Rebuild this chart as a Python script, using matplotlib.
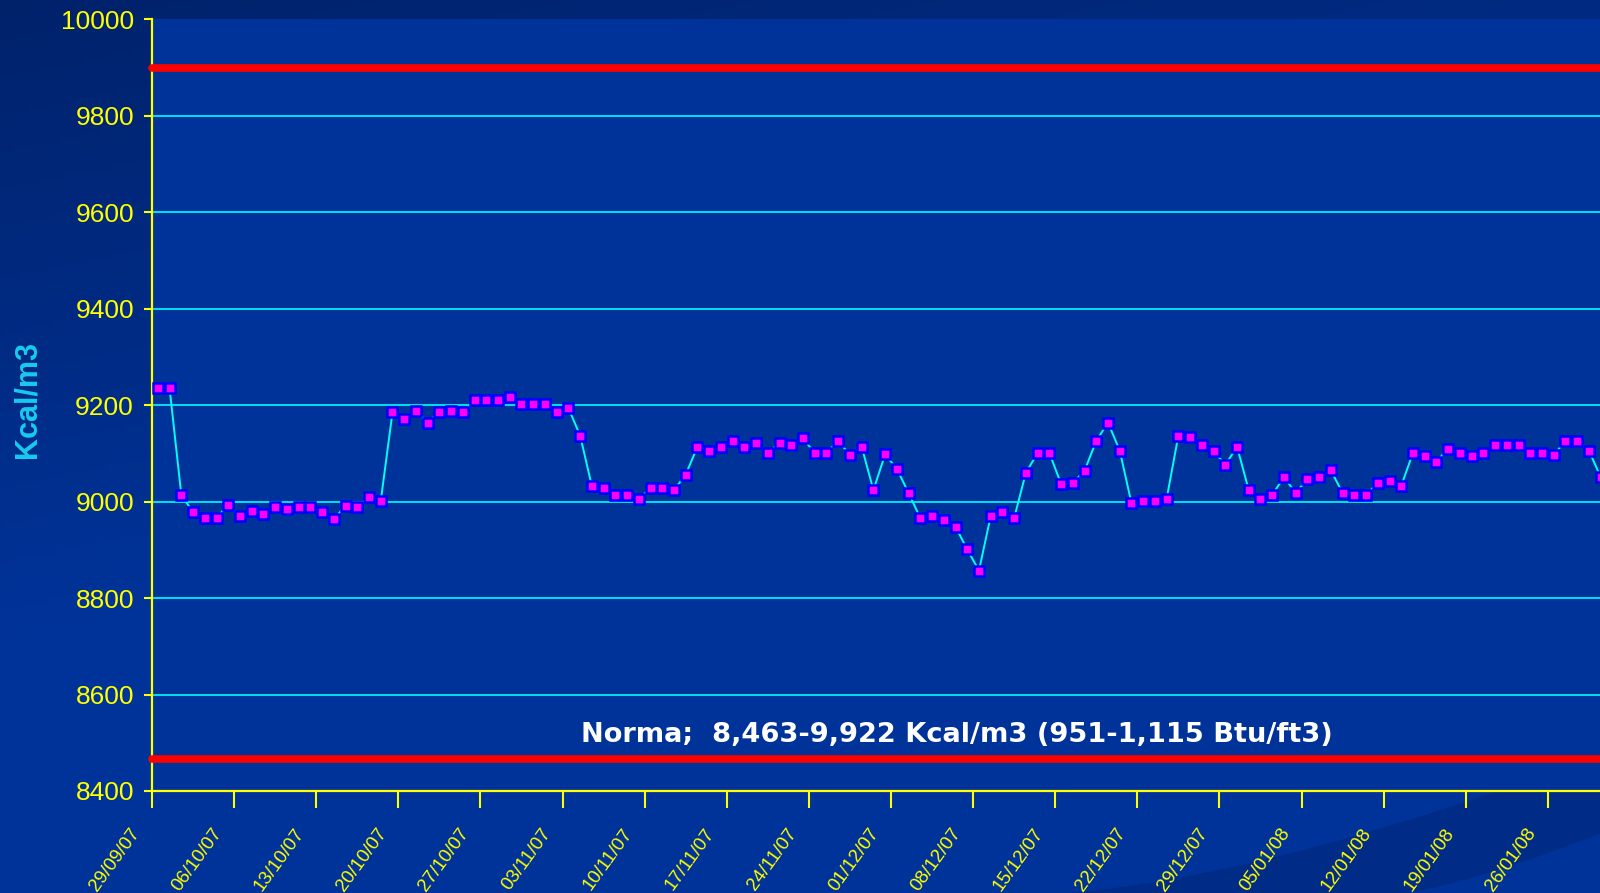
import numpy as np
import matplotlib
matplotlib.use('Agg')
import matplotlib.pyplot as plt
from matplotlib import transforms

# daily heating value, Kcal/m3 (29/09/07 onwards)
values = [9235, 9235, 9014, 8978, 8967, 8967, 8993, 8970, 8981, 8975,
          8989, 8985, 8989, 8989, 8978, 8963, 8992, 8989, 9010, 9001,
          9185, 9172, 9188, 9164, 9185, 9189, 9185, 9211, 9211, 9211,
          9218, 9203, 9203, 9203, 9185, 9194, 9137, 9032, 9028, 9013,
          9014, 9005, 9028, 9028, 9024, 9056, 9114, 9106, 9113, 9126,
          9113, 9122, 9101, 9122, 9118, 9131, 9101, 9101, 9126, 9097,
          9114, 9024, 9098, 9068, 9018, 8966, 8970, 8962, 8948, 8901,
          8857, 8970, 8979, 8966, 9060, 9101, 9101, 9037, 9039, 9064,
          9126, 9164, 9106, 8997, 9001, 9001, 9006, 9137, 9135, 9118,
          9106, 9076, 9114, 9024, 9006, 9014, 9051, 9018, 9047, 9051,
          9065, 9018, 9014, 9014, 9039, 9043, 9033, 9101, 9095, 9083,
          9110, 9101, 9095, 9101, 9118, 9118, 9118, 9101, 9101, 9097,
          9126, 9126, 9106, 9051]

tick_labels = ['29/09/07', '06/10/07', '13/10/07', '20/10/07', '27/10/07',
               '03/11/07', '10/11/07', '17/11/07', '24/11/07', '01/12/07',
               '08/12/07', '15/12/07', '22/12/07', '29/12/07', '05/01/08',
               '12/01/08', '19/01/08', '26/01/08']

y_ticks = [8400, 8600, 8800, 9000, 9200, 9400, 9600, 9800, 10000]
upper_limit = 9900
lower_limit = 8466
norma_text = 'Norma;  8,463-9,922 Kcal/m3 (951-1,115 Btu/ft3)'

W, H = 1600, 893
fig = plt.figure(figsize=(W / 100, H / 100), dpi=100)

# background gradient
bg = fig.add_axes([0, 0, 1, 1])
bg.axis('off')
yy, xx = np.mgrid[0:1:200j, 0:1:300j]
t = np.clip(yy * 1.4 + xx * 0.5, 0, 1)[..., None]
dark = np.array([0x00, 0x22, 0x6B]) / 255
light = np.array([0x00, 0x33, 0x99]) / 255
bg.imshow(dark + (light - dark) * t, aspect='auto', extent=[0, W, H, 0])
bg.set_xlim(0, W)
bg.set_ylim(H, 0)
# dark swoosh at bottom right
sx = np.linspace(1050, 1600, 60)
top = 893 - (sx - 1050) ** 1.5 / 550 ** 1.5 * 140
bot = 893 - np.clip(sx - 1400, 0, None) ** 1.3 / 200 ** 1.3 * 60
bg.fill_between(sx, top, bot, color='#002C88', lw=0)

ax = fig.add_axes([152 / W, 102 / H, 1448 / W, 771.6 / H])
ax.set_facecolor('#003399')
day_px = 11.73
ax.set_xlim(0, 1448 / day_px)
ax.set_ylim(8400, 10000)

for s in ['top', 'right']:
    ax.spines[s].set_visible(False)
for s in ['left', 'bottom']:
    ax.spines[s].set_color('#FFFF00')
    ax.spines[s].set_linewidth(1.6)

ax.set_yticks(y_ticks)
ax.yaxis.grid(True, color='#00FFFF', lw=1.2)
ax.get_ygridlines()[-1].set_visible(False)
ax.set_axisbelow(True)
ax.tick_params(axis='y', colors='#FFFF00', labelsize=19, length=6, width=1.5, pad=7)
for lbl in ax.get_yticklabels():
    lbl.set_family('Liberation Sans')

x = np.arange(len(values)) + 0.5
ax.plot(x, values, color='#00FFFF', lw=1.4, marker='s', ms=7.4,
        mfc='#FF00FF', mec='#0000FF', mew=1.8, zorder=4)

ax.plot(ax.get_xlim(), [upper_limit, upper_limit], color='#FF0000', lw=5.5,
        solid_capstyle='round', clip_on=False, zorder=3)
ax.plot(ax.get_xlim(), [lower_limit, lower_limit], color='#FF0000', lw=5.5,
        solid_capstyle='round', clip_on=False, zorder=3)

ax.text(68.6, 8516, norma_text, color='white', fontsize=19.6, fontweight='bold',
        family='DejaVu Sans', ha='center', va='center', zorder=5)

ticks = np.arange(len(tick_labels)) * 7
ax.set_xticks(ticks)
ax.set_xticklabels([])
ax.tick_params(axis='x', colors='#FFFF00', length=12, width=1.5)
off = transforms.ScaledTranslation(-0.22, -0.34, fig.dpi_scale_trans)
for tk, lab in zip(ticks, tick_labels):
    ax.text(tk, 0, lab, transform=ax.get_xaxis_transform() + off,
            rotation=54, rotation_mode='anchor', ha='right', va='top',
            color='#FFFF00', fontsize=13.5, family='Liberation Sans')

fig.text(27 / W, 1 - 400 / H, 'Kcal/m3', rotation=90, color='#18CCEE',
         fontsize=22, fontweight='bold', family='Liberation Sans',
         ha='center', va='center')

fig.savefig('out.png', dpi=100)
